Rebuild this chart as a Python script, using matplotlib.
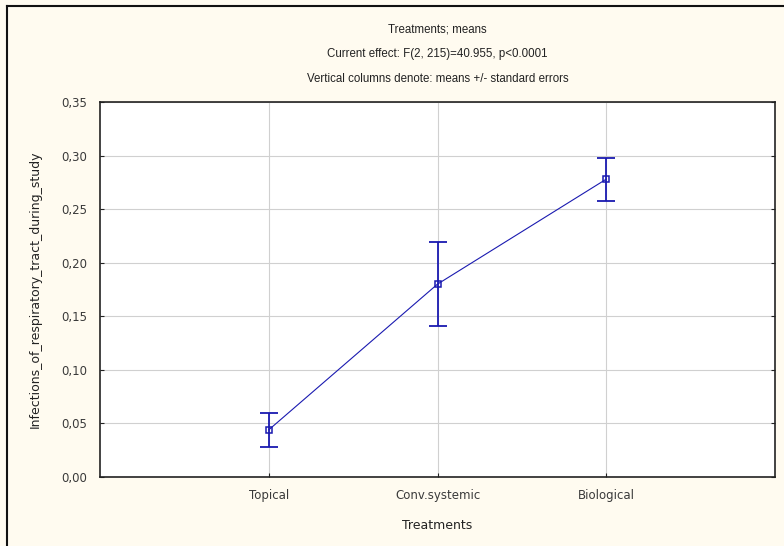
import matplotlib
matplotlib.use("Agg")
import matplotlib.pyplot as plt
from matplotlib.ticker import FuncFormatter, MultipleLocator
from matplotlib.lines import Line2D

categories = ["Topical", "Conv.systemic", "Biological"]
means = [0.044, 0.180, 0.278]
std_errors = [0.016, 0.039, 0.020]
title_lines = ["Treatments; means",
               "Current effect: F(2, 215)=40.955, p<0.0001",
               "Vertical columns denote: means +/- standard errors"]
y_label = "Infections_of_respiratory_tract_during_study"
x_label = "Treatments"

plt.rcParams['font.family'] = ['Liberation Sans', 'DejaVu Sans']
wide = ['DejaVu Sans']

W, H = 784, 546
fig = plt.figure(figsize=(W / 100, H / 100), dpi=100)
fig.patch.set_facecolor('#FFFBF0')

# axes box in pixels: x 100..775, y 102..477
ax = fig.add_axes([100 / W, 1 - 477 / H, 675 / W, 375 / H])
ax.set_facecolor('white')

x = list(range(1, len(categories) + 1))
blue = '#1A1AB0'
ax.plot(x, means, color=blue, lw=0.8, zorder=3)
ax.errorbar(x, means, yerr=std_errors, fmt='none', ecolor=blue, elinewidth=1.3,
            capsize=6.5, capthick=1.3, zorder=3)
ax.plot(x, means, linestyle='none', marker='s', markersize=4, markerfacecolor='none',
        markeredgecolor=blue, markeredgewidth=1.1, zorder=4)

ax.set_xlim(0, 4)
ax.set_ylim(0, 0.35)
ax.set_xticks(x)
ax.set_xticklabels(categories)
ax.yaxis.set_major_locator(MultipleLocator(0.05))
ax.yaxis.set_major_formatter(FuncFormatter(lambda v, p: f"{v:.2f}".replace('.', ',')))
ax.grid(True, color='#D0D0D0', lw=0.8)
ax.set_axisbelow(True)

ax.tick_params(axis='both', direction='in', length=3, width=0.8, colors='#222222',
               labelsize=8.5, labelcolor='#3A3A3A')
ax.tick_params(axis='y', right=True, pad=9)
ax.tick_params(axis='x', pad=9)
for lab in ax.get_xticklabels() + ax.get_yticklabels():
    lab.set_family(wide)
for s in ax.spines.values():
    s.set_color('#222222')
    s.set_linewidth(1.2)

ax.set_xlabel(x_label, fontsize=9, color='#222222', labelpad=12, family=wide)
ax.set_ylabel(y_label, fontsize=9, color='#222222', labelpad=14, family=wide)

for i, t in enumerate(title_lines):
    fig.text(0.5 * (100 + 775) / W, 1 - (29 + 25 * i) / H, t, ha='center', va='center',
             fontsize=8.3, color='#222222')

# figure border (left & top)
fig.add_artist(Line2D([7 / W, 7 / W], [0, 1 - 6 / H], color='#111111', lw=1.5,
                      transform=fig.transFigure))
fig.add_artist(Line2D([7 / W, 1], [1 - 6 / H, 1 - 6 / H], color='#111111', lw=1.5,
                      transform=fig.transFigure))

fig.savefig('out.png', dpi=100, facecolor=fig.get_facecolor())
